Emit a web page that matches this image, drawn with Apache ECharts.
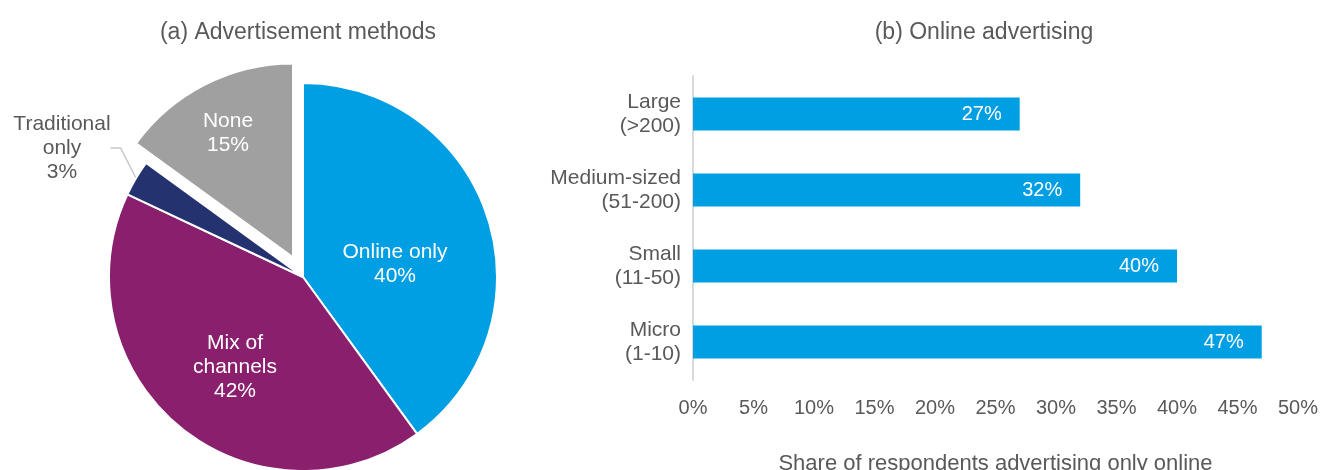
<!DOCTYPE html>
<html>
<head>
<meta charset="utf-8">
<script src="https://cdn.jsdelivr.net/npm/echarts@6/dist/echarts.min.js"></script>
<style>
  html, body { margin: 0; padding: 0; background: #ffffff; }
  #chart { width: 1322px; height: 470px; }
</style>
</head>
<body>
<div id="chart"></div>
<script>
// (a) How firms advertise
const methodNames  = ['Online only', 'Mix of channels', 'Traditional only', 'None'];
const methodLabels = ['Online only', 'Mix of\nchannels', 'Traditional\nonly', 'None'];
const methodShares = [40, 42, 3, 15];

// (b) Share advertising only online, by firm size
const sizeClasses  = ['Large\n(>200)', 'Medium-sized\n(51-200)', 'Small\n(11-50)', 'Micro\n(1-10)'];
const onlineShares = [27, 32, 40, 47];

// Value-axis ticks (percent)
const shareTicks = [0, 5, 10, 15, 20, 25, 30, 35, 40, 45, 50];

const FONT = '"Liberation Sans", Arial, Helvetica, sans-serif';
const TEXT_GREY = '#595959';
const sliceColors = ['#009FE3', '#8A1F6E', '#24336F', '#A0A0A0'];
// Label anchor points for each slice (x, y in px)
const sliceLabelPos = [[395, 264], [235, 367], [62, 148], [228, 133]];

// Pie geometry
const PIE_CENTER = [303, 277];
const PIE_RADIUS = 194;
const PULL_OUT = 22;            // how far the "None" slice is pulled away
const PULLED = 'None';

// Angles of the pulled-out slice (ECharts degrees, clockwise from 12 o'clock)
const total = methodShares.reduce((a, b) => a + b, 0);
const pulledIdx = methodNames.indexOf(PULLED);
const sharesBefore = methodShares.slice(0, pulledIdx).reduce((a, b) => a + b, 0);
const pullStart = 90 - sharesBefore / total * 360;
const pullEnd = pullStart - methodShares[pulledIdx] / total * 360;
const pullMid = (pullStart + pullEnd) / 2 * Math.PI / 180;
const pulledCenter = [
  PIE_CENTER[0] + PULL_OUT * Math.cos(pullMid),
  PIE_CENTER[1] - PULL_OUT * Math.sin(pullMid)
];

const labelFormatter = (i) => methodLabels[i] + '\n' + methodShares[i] + '%';
const fixedLabel = (i) => ({
  x: sliceLabelPos[i][0], y: sliceLabelPos[i][1], align: 'center', verticalAlign: 'middle'
});

// Main pie: the pulled slice leaves an empty gap here and is drawn by its own series
const mainPieData = methodNames.map((name, i) => {
  const outside = name === 'Traditional only';
  const gap = i === pulledIdx;
  return {
    name: name,
    value: methodShares[i],
    itemStyle: gap
      ? { color: 'rgba(0,0,0,0)', borderWidth: 0 }
      : { color: sliceColors[i] },
    label: {
      show: !gap,
      position: outside ? 'outside' : 'inside',
      color: outside ? TEXT_GREY : '#ffffff'
    },
    labelLine: {
      show: outside,
      length: 20,
      length2: 10,
      lineStyle: { color: '#C8C8C8', width: 1.5 }
    }
  };
});

const chart = echarts.init(document.getElementById('chart'), null, { renderer: 'canvas' });

chart.setOption({
  animation: false,
  backgroundColor: '#ffffff',
  textStyle: { fontFamily: FONT },
  title: [
    {
      text: '(a) Advertisement methods',
      left: 293, top: 16, textAlign: 'center',
      textStyle: { fontFamily: FONT, fontSize: 23, fontWeight: 'normal', color: TEXT_GREY }
    },
    {
      text: '(b) Online advertising',
      left: 979, top: 16, textAlign: 'center',
      textStyle: { fontFamily: FONT, fontSize: 23, fontWeight: 'normal', color: TEXT_GREY }
    }
  ],
  grid: {
    left: 693, right: 24, top: 76, bottom: 90,
    containLabel: false,
    outerBoundsMode: 'none'
  },
  xAxis: {
    type: 'value',
    min: shareTicks[0],
    max: shareTicks[shareTicks.length - 1],
    interval: shareTicks[1] - shareTicks[0],
    axisLine: { show: false },
    axisTick: { show: false },
    splitLine: { show: false },
    axisLabel: {
      formatter: '{value}%',
      fontFamily: FONT, fontSize: 20, color: TEXT_GREY, margin: 18
    },
    name: 'Share of respondents advertising only online',
    nameLocation: 'middle',
    nameGap: 73,
    nameTextStyle: { fontFamily: FONT, fontSize: 22, color: TEXT_GREY }
  },
  yAxis: {
    type: 'category',
    inverse: true,
    data: sizeClasses,
    axisLine: { show: true, lineStyle: { color: '#D9D9D9', width: 2 } },
    axisTick: { show: false },
    axisLabel: {
      fontFamily: FONT, fontSize: 21, color: TEXT_GREY,
      lineHeight: 24, margin: 12, align: 'right'
    }
  },
  series: [
    {
      type: 'pie',
      center: PIE_CENTER,
      radius: PIE_RADIUS,
      startAngle: 90,
      clockwise: true,
      avoidLabelOverlap: false,
      silent: true,
      itemStyle: { borderColor: '#ffffff', borderWidth: 2 },
      label: {
        show: true,
        fontFamily: FONT,
        fontSize: 21,
        lineHeight: 24,
        formatter: (p) => labelFormatter(p.dataIndex)
      },
      labelLayout: (p) => fixedLabel(p.dataIndex),
      emphasis: { disabled: true },
      data: mainPieData
    },
    {
      type: 'pie',
      center: pulledCenter,
      radius: PIE_RADIUS,
      startAngle: pullStart,
      endAngle: pullEnd,
      clockwise: true,
      avoidLabelOverlap: false,
      silent: true,
      itemStyle: { color: sliceColors[pulledIdx], borderColor: '#ffffff', borderWidth: 2 },
      label: {
        show: true,
        position: 'inside',
        color: '#ffffff',
        fontFamily: FONT,
        fontSize: 21,
        lineHeight: 24,
        formatter: () => labelFormatter(pulledIdx)
      },
      labelLine: { show: false },
      labelLayout: () => fixedLabel(pulledIdx),
      emphasis: { disabled: true },
      data: [{ name: PULLED, value: methodShares[pulledIdx] }]
    },
    {
      type: 'bar',
      data: onlineShares,
      barWidth: 33,
      silent: true,
      itemStyle: { color: '#009FE3' },
      label: {
        show: true,
        position: 'insideRight',
        distance: 18,
        formatter: '{c}%',
        fontFamily: FONT, fontSize: 20, color: '#ffffff'
      }
    }
  ]
});
</script>
</body>
</html>
